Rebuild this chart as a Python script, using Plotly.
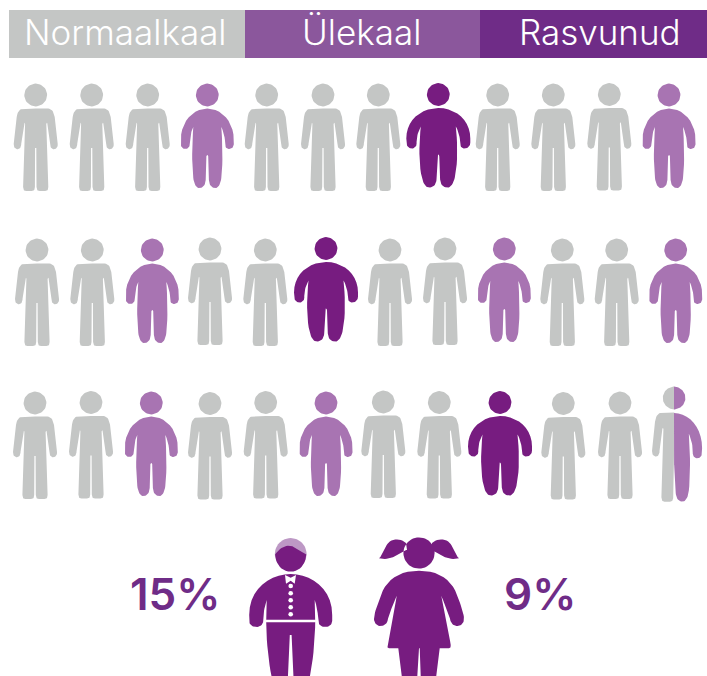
import math
import plotly.graph_objects as go

# ---------- data ----------
categories = ["Normaalkaal", "Ülekaal", "Rasvunud"]
header_widths = [236, 235, 227]
row1 = ["N", "N", "N", "O", "N", "N", "N", "F", "N", "N", "N", "O"]
row2 = ["N", "N", "O", "N", "N", "F", "N", "N", "O", "N", "N", "O"]
row3 = ["N", "N", "O", "N", "N", "O", "N", "N", "F", "N", "N", "H"]
boy_label = "15%"
girl_label = "9%"

# ---------- layout of the pictogram ----------
row1_x = [35.7, 91.7, 147.7, 207.3, 266.7, 323, 378.3, 438.3, 497.7, 553.3, 609.3, 669]
row2_x = [37, 92.3, 152.3, 210, 265.3, 326, 390, 445, 504.3, 562.3, 616.7, 675.7]
row3_x = [35, 91, 151.3, 210, 265.7, 326, 383.3, 439.3, 500, 563.3, 620, 674]
row1_y = [95, 95, 95, 95, 95, 95, 95, 94.5, 95, 95, 94.5, 95]
row2_y = [250, 250, 250, 249, 250, 248.5, 250, 249, 249, 250, 250, 250]
row3_y = [403, 402.5, 403, 403.5, 402.5, 403, 402, 402.5, 402.5, 403.5, 403, 398]

GREY, OVER, OBESE = "#C4C6C5", "#A874B2", "#771C80"
H_MID, H_DARK = "#8B579C", "#6F2C87"
HAIR = "#BD98C5"
HEAD_R = 11.4


def trace_outline(start, ops, n=10):
    pts = [start]
    for op in ops:
        if len(op) == 1:
            pts.append(op[0])
        else:
            p0 = pts[-1]
            p1, p2, p3 = op
            for i in range(1, n + 1):
                t = i / n
                u = 1 - t
                pts.append((
                    u**3 * p0[0] + 3 * u * u * t * p1[0] + 3 * u * t * t * p2[0] + t**3 * p3[0],
                    u**3 * p0[1] + 3 * u * u * t * p1[1] + 3 * u * t * t * p2[1] + t**3 * p3[1],
                ))
    return pts


NORMAL = trace_outline((0, 13.5), [
    [(-11, 13.5)],
    ((-16, 13.5), (-18, 16), (-19, 22)),
    [(-22, 49)],
    ((-22.3, 52), (-20.5, 54.2), (-18, 54.2)),
    ((-16, 54.2), (-14.2, 52), (-14.5, 49)),
    [(-11.6, 28.5)],
    ((-11.4, 27.3), (-10.8, 27.3), (-10.6, 29)),
    [(-12.6, 92)],
    ((-12.6, 95), (-11.5, 96), (-9.5, 96)),
    [(-4, 96)],
    ((-2, 96), (-0.8, 95), (-0.8, 92)),
    [(-0.6, 53)],
    [(0, 53)],
])
OVERW = trace_outline((0, 13.5), [
    ((-14, 13.5), (-26.5, 26), (-26.5, 45)),
    [(-26.5, 49)],
    ((-26.5, 52), (-24.5, 54), (-22, 54)),
    ((-19.5, 54), (-17.4, 52), (-17.7, 49)),
    ((-18, 44), (-16.5, 37), (-14, 32)),
    ((-15.4, 50), (-15.6, 70), (-14, 83)),
    ((-13.2, 90), (-10.5, 93), (-8, 93)),
    ((-4.5, 93), (-2, 90.5), (-1.6, 85)),
    [(-0.9, 61)],
    ((-0.7, 60), (0, 60), (0, 60)),
])
OBESEW = trace_outline((0, 13.5), [
    ((-18, 13.5), (-32, 26), (-32, 44)),
    [(-32, 48)],
    ((-32, 52), (-29, 54), (-26.5, 54)),
    ((-23.5, 54), (-21.5, 51.5), (-21.7, 49)),
    ((-22, 44), (-20.5, 37), (-17.5, 32)),
    ((-19.5, 50), (-19.5, 70), (-16.5, 83)),
    ((-15.2, 89), (-12.5, 93), (-9.5, 93)),
    ((-5.5, 93), (-2.2, 91), (-1.8, 85)),
    [(-1, 62)],
    ((-0.8, 60), (0, 60), (0, 60)),
])
BOY = trace_outline((0, 19), [
    ((-20, 19), (-41.5, 33), (-41.5, 60)),
    [(-41.5, 66)],
    ((-41.5, 70), (-38, 72), (-34.5, 72)),
    ((-31, 72), (-27.5, 70), (-27.5, 66)),
    ((-27.5, 60), (-26.5, 52), (-24, 45)),
    [(-24.5, 67)],
    ((-24.5, 85), (-22, 110), (-18, 127)),
    [(-3, 127)],
    [(-0.9, 80)],
    [(0, 80)],
])
GIRL = trace_outline((0, 17.7), [
    ((-20, 17.7), (-33, 27), (-38, 42)),
    ((-41, 50), (-45, 60), (-45, 66)),
    ((-45, 70), (-42, 73), (-38.5, 73)),
    ((-35, 73), (-32.5, 71), (-31.5, 68)),
    ((-30, 60), (-25, 50), (-22.3, 42.7)),
    ((-24, 55), (-30, 80), (-31.7, 92)),
    ((-32, 94.5), (-31, 95.3), (-30, 95.3)),
    [(-20.7, 95.3)],
    [(-17, 125)],
    [(-1.8, 125)],
    [(-0.7, 95.3)],
    [(0, 95.3)],
])
PIGTAIL = trace_outline((-13, -10), [
    ((-18, -14.5), (-26, -15), (-30.7, -10.3)),
    ((-34, -6.5), (-35, 1), (-40, 5.3)),
    ((-34, 7), (-26, 5.5), (-20.7, 1)),
    ((-17, -1), (-14, -3), (-12, -3)),
])


def add_poly(bucket, pts):
    bucket[0].extend([p[0] for p in pts] + [None])
    bucket[1].extend([p[1] for p in pts] + [None])


def mirror_outline(half, cx, cy, sl=(1, 1), sr=(1, 1)):
    left = [(cx + x * sl[0], cy + y * sl[1]) for x, y in half]
    right = [(cx - x * sr[0], cy + y * sr[1]) for x, y in reversed(half)]
    return left + right


def circle(cx, cy, r, a0=0, a1=360, n=48):
    return [(cx + r * math.cos(math.radians(a0 + (a1 - a0) * i / n)),
             cy + r * math.sin(math.radians(a0 + (a1 - a0) * i / n))) for i in range(n + 1)]


buckets = {GREY: ([], []), OVER: ([], []), OBESE: ([], [])}
shapes_by_kind = {"N": (NORMAL, GREY), "O": (OVERW, OVER), "F": (OBESEW, OBESE)}

for kinds, xs, ys in [(row1, row1_x, row1_y), (row2, row2_x, row2_y), (row3, row3_x, row3_y)]:
    for kind, cx, cy in zip(kinds, xs, ys):
        if kind == "H":
            left = [(cx + x, cy + y * 1.08) for x, y in NORMAL]
            right = [(cx - x * 1.06, cy + y * 1.115) for x, y in OVERW]
            add_poly(buckets[GREY], left + [(cx + 0.3, cy + 53), (cx + 0.3, cy + 14.6)])
            add_poly(buckets[OVER], right)
            add_poly(buckets[GREY], circle(cx + 0.2, cy, HEAD_R, 90, 270))
            add_poly(buckets[OVER], circle(cx, cy, HEAD_R, -90, 90))
        else:
            half, col = shapes_by_kind[kind]
            add_poly(buckets[col], mirror_outline(half, cx, cy))
            add_poly(buckets[col], circle(cx, cy, HEAD_R))

fig = go.Figure()

# header band drawn as stacked horizontal bars
starts = [9, 9 + header_widths[0], 9 + header_widths[0] + header_widths[1]]
for name, w, s, col in zip(categories, header_widths, starts, [GREY, H_MID, H_DARK]):
    fig.add_trace(go.Bar(x=[w], base=[s], y=[34], width=[48], orientation="h", name=name,
                         marker=dict(color=col, line=dict(width=0)), hoverinfo="skip"))


def fill_trace(bucket, col):
    fig.add_trace(go.Scatter(x=bucket[0], y=bucket[1], mode="lines", fill="toself",
                             fillcolor=col, line=dict(width=0, color=col), hoverinfo="skip"))


for col, b in buckets.items():
    fill_trace(b, col)

# boy
bx, by = 290.7, 555
hair = ([], [])
add_poly(hair, circle(bx, by - 1, 15.9))
fill_trace(hair, HAIR)

boy_head = trace_outline((bx + 15.6, by - 0.5), [
    ((bx + 15, by + 9), (bx + 9, by + 16.7), (bx, by + 16.7)),
    ((bx - 9, by + 16.7), (bx - 15, by + 9), (bx - 15.6, by - 0.5)),
    ((bx - 12, by - 6), (bx - 7, by - 9.5), (bx - 1, by - 9.3)),
    ((bx + 4, by - 9), (bx + 6, by - 4.5), (bx + 11, by - 3)),
    ((bx + 13, by - 2.2), (bx + 14.5, by - 1.5), (bx + 15.6, by - 0.5)),
])
dark = ([], [])
add_poly(dark, boy_head)
add_poly(dark, mirror_outline(BOY, bx, by))
fill_trace(dark, OBESE)

white = ([], [])
add_poly(white, [(bx - 25.2, by + 64.7), (bx + 25.2, by + 64.7), (bx + 25.2, by + 67.3), (bx - 25.2, by + 67.3)])
add_poly(white, [(bx - 5.7, by + 20), (bx, by + 22.7), (bx + 5.3, by + 20), (bx + 4, by + 28.7),
                 (bx, by + 25.7), (bx - 4.7, by + 28.7)])
fill_trace(white, "#FFFFFF")
fig.add_trace(go.Scatter(x=[bx] * 5, y=[by + d for d in (31, 38.3, 45.3, 52.3, 59.3)], mode="markers",
                         marker=dict(color="#FFFFFF", size=4.6, line=dict(width=0)), hoverinfo="skip"))

# girl
gx, gy = 419, 553
g = ([], [])
add_poly(g, mirror_outline(GIRL, gx, gy))
add_poly(g, circle(gx, gy, 15.6))
add_poly(g, [(gx + x, gy + y) for x, y in PIGTAIL])
add_poly(g, [(gx - x, gy + y) for x, y in PIGTAIL])
fill_trace(g, OBESE)

annotations = []
for text, x in zip(categories, [125, 361, 600]):
    annotations.append(dict(x=x, y=32, text=text, showarrow=False, xanchor="center", yanchor="middle",
                            font=dict(family="Inter", size=35, color="#FFFFFF", weight=300)))
for text, x in [(boy_label, 175), (girl_label, 539.5)]:
    annotations.append(dict(x=x, y=594, text=text, showarrow=False, xanchor="center", yanchor="middle",
                            font=dict(family="Inter", size=44, color=H_DARK, weight=600)))

fig.update_layout(
    width=707, height=676, margin=dict(l=0, r=0, t=0, b=0),
    paper_bgcolor="#FFFFFF", plot_bgcolor="#FFFFFF", showlegend=False, barmode="overlay",
    xaxis=dict(range=[0, 707], visible=False, fixedrange=True),
    yaxis=dict(range=[676, 0], visible=False, fixedrange=True),
    annotations=annotations,
)
fig.write_html("out.html", config={"displayModeBar": False},
               post_script="document.body.style.margin='0';document.documentElement.style.overflow='hidden';")
